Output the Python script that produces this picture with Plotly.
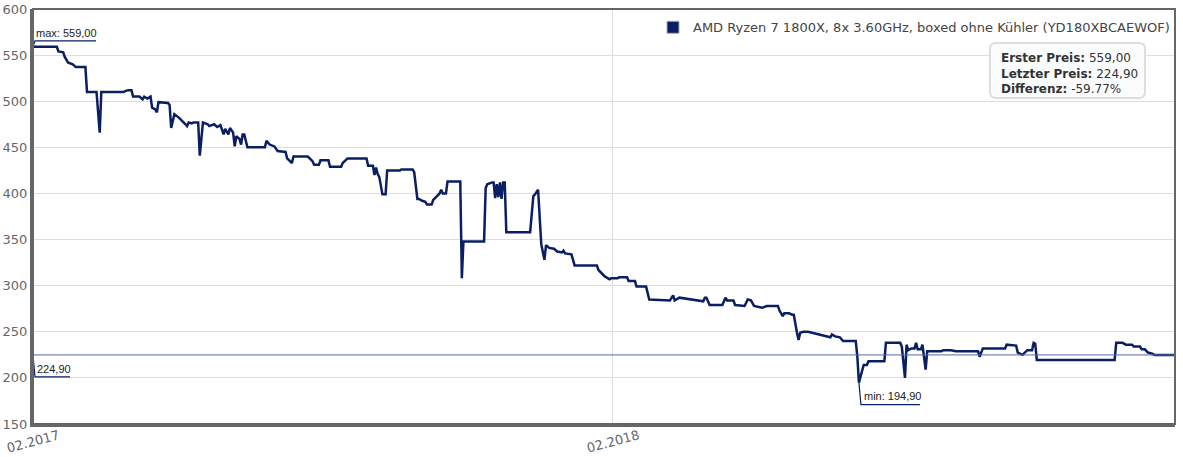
import pandas as pd
import plotly.graph_objects as go

# ---------------- data ----------------
start_date = "2017-02-01"
product_name = "AMD Ryzen 7 1800X, 8x 3.60GHz, boxed ohne Kühler (YD180XBCAEWOF)"

day_offsets = [
    0, 15, 16, 19, 20, 22, 25, 27, 33, 34,
    40, 42, 43, 57, 58, 60, 62, 63, 67, 69,
    70, 72, 74, 75, 77, 78, 79, 85, 86, 87,
    89, 92, 96, 97, 98, 100, 101, 104, 105, 107,
    110, 111, 114, 116, 118, 119, 120, 121, 123, 124,
    126, 127, 128, 130, 131, 132, 133, 135, 146, 147,
    149, 152, 154, 159, 160, 163, 164, 173, 176, 177,
    180, 181, 186, 187, 194, 195, 198, 210, 211, 214,
    215, 216, 217, 218, 220, 222, 223, 231, 232, 239,
    240, 242, 243, 245, 247, 248, 251, 252, 254, 256,
    257, 258, 260, 261, 269, 270, 271, 284, 285, 286,
    289, 290, 291, 292, 293, 294, 295, 296, 297, 298,
    313, 315, 316, 317, 318, 320, 321, 322, 323, 325,
    328, 330, 333, 334, 335, 339, 341, 355, 356, 358,
    360, 363, 364, 368, 369, 374, 375, 379, 380, 386,
    388, 401, 403, 404, 407, 422, 423, 424, 426, 434,
    436, 437, 441, 442, 448, 450, 452, 454, 459, 462,
    469, 470, 472, 473, 476, 478, 479, 481, 482, 483,
    485, 488, 502, 503, 505, 508, 510, 518, 519, 520,
    522, 523, 525, 526, 536, 537, 546, 547, 549, 550,
    551, 553, 555, 556, 557, 559, 560, 562, 563, 572,
    573, 578, 581, 595, 596, 598, 612, 613, 619, 620,
    623, 626, 629, 630, 631, 632, 681, 682, 686, 688,
    692, 693, 697, 698, 700, 702, 705, 706, 719,
]

prices = [
    559, 559, 554, 553, 548, 542, 540, 537, 537, 510,
    510, 466, 510, 510, 511, 512, 512, 505, 505, 502,
    505, 503, 505, 493, 491, 488, 499, 498, 496, 471,
    486, 482, 475, 473, 477, 476, 477, 477, 441, 477,
    475, 473, 475, 472, 474, 468, 464, 470, 464, 471,
    466, 451, 462, 459, 453, 464, 464, 450, 450, 457,
    453, 451, 446, 445, 438, 433, 440, 440, 435, 431,
    431, 436, 436, 429, 429, 433, 438, 438, 430, 430,
    420, 428, 421, 418, 399, 399, 425, 425, 426, 426,
    423, 394, 394, 392, 391, 388, 388, 393, 397, 400,
    404, 400, 400, 413, 413, 308, 348, 348, 406, 410,
    412, 412, 395, 410, 396, 412, 394, 412, 412, 358,
    358, 397, 399, 402, 404, 345, 336, 328, 344, 341,
    340, 337, 336, 338, 335, 334, 322, 322, 317, 314,
    310, 307, 308, 308, 309, 309, 305, 305, 299, 299,
    285, 284, 289.5, 284, 287, 283, 287, 287, 279, 279,
    287, 284, 284, 279, 278, 285, 284, 278, 276, 278,
    278, 273, 267, 270, 270, 268.5, 268.5, 249, 241, 249,
    250, 250, 244, 247, 245, 244, 240, 240, 223, 194.9,
    209, 214, 214, 218, 218, 238, 238, 234, 200, 236,
    230, 232, 232, 238, 231, 231, 236, 209, 229, 229,
    230, 230, 229, 229, 223, 232, 232, 236, 235, 227.5,
    225, 230, 230, 238, 237, 219.5, 219.5, 238, 238, 236,
    236, 234, 234, 231, 231, 227.5, 226, 224.9, 224.9,
]

tick_dates = ["2017-02-01", "2018-02-01"]
tick_labels = ["02.2017", "02.2018"]
y_ticks = [150, 200, 250, 300, 350, 400, 450, 500, 550, 600]

# ---------------- derived ----------------
dates = pd.Timestamp(start_date) + pd.to_timedelta(day_offsets, unit="D")
s = pd.Series(prices, index=dates)
first_price, last_price = prices[0], prices[-1]
max_val, max_date = s.max(), s.idxmax()
min_val, min_date = s.min(), s.idxmin()
diff_pct = (last_price - first_price) / first_price * 100


def de(v):
    return f"{v:.2f}".replace(".", ",")


LINE = "#0a1e64"
FONT = "DejaVu Sans"
LBL_FONT = "Liberation Sans"
GRAY = "#666666"

fig = go.Figure()
fig.add_trace(go.Scatter(
    x=dates, y=prices, mode="lines",
    line=dict(color=LINE, width=2.5), showlegend=False,
    hoverinfo="x+y",
))
# legend entry with a square swatch
fig.add_trace(go.Scatter(
    x=[None], y=[None], mode="markers", name=product_name,
    marker=dict(symbol="square", size=12, color=LINE,
                line=dict(color="#aaaaaa", width=1)),
))

shapes = []
# reference line at last price
shapes.append(dict(type="line", xref="paper", x0=0, x1=1, yref="y",
                   y0=last_price, y1=last_price,
                   line=dict(color="#5a68a8", width=1)))
# leader lines (pixel offsets anchored at data points)
for anchor_x, anchor_y, path in [
    (dates[0], max_val, "M 0,0 L 2,6 L 63,6"),
    (dates[0], last_price, "M 0,0 L 2,-22 L 37,-22"),
    (min_date, min_val, "M 0,0 L 2,-22 L 61,-22"),
]:
    shapes.append(dict(type="path", xref="x", yref="y",
                       xsizemode="pixel", ysizemode="pixel",
                       xanchor=anchor_x, yanchor=anchor_y, path=path,
                       line=dict(color=LINE, width=1.2)))
# info box (rounded)
shapes.append(dict(
    type="path", xref="paper", yref="paper",
    xsizemode="pixel", ysizemode="pixel", xanchor=1, yanchor=1,
    path=("M -179,-34 L -36,-34 Q -30,-34 -30,-40 L -30,-83 Q -30,-89 -36,-89 "
          "L -179,-89 Q -185,-89 -185,-83 L -185,-40 Q -185,-34 -179,-34 Z"),
    line=dict(color="#dddddd", width=2), fillcolor="#fbfcfd", layer="above"))
# plot frame (top/right)
shapes.append(dict(type="rect", xref="paper", yref="paper", x0=0, x1=1, y0=0, y1=1,
                   line=dict(color=GRAY, width=2), layer="above"))

annotations = []
annotations.append(dict(x=dates[0], y=max_val, xref="x", yref="y",
                        text=f"max: {de(max_val)}", showarrow=False,
                        xanchor="left", yanchor="middle", xshift=1, yshift=14,
                        font=dict(family=LBL_FONT, size=11, color="#222222")))
annotations.append(dict(x=dates[0], y=last_price, xref="x", yref="y",
                        text=de(last_price), showarrow=False,
                        xanchor="left", yanchor="middle", xshift=2, yshift=-14,
                        font=dict(family=LBL_FONT, size=11, color="#222222")))
annotations.append(dict(x=min_date, y=min_val, xref="x", yref="y",
                        text=f"min: {de(min_val)}", showarrow=False,
                        xanchor="left", yanchor="middle", xshift=3, yshift=-13,
                        font=dict(family=LBL_FONT, size=11, color="#222222")))
annotations.append(dict(
    x=1, y=1, xref="paper", yref="paper", xanchor="left", yanchor="top",
    xshift=-176, yshift=-40, align="left", showarrow=False,
    text=(f"<b>Erster Preis:</b> {de(first_price)}<br>"
          f"<b>Letzter Preis:</b> {de(last_price)}<br>"
          f"<b>Differenz:</b> {diff_pct:.2f}%"),
    font=dict(family=FONT, size=12, color="#333333")))
for td, tl in zip(tick_dates, tick_labels):
    annotations.append(dict(x=td, y=0, xref="x", yref="paper", text=tl,
                            showarrow=False, textangle=-15,
                            xanchor="center", yanchor="middle", yshift=-17,
                            font=dict(family=FONT, size=13, color=GRAY)))

x_end = pd.Timestamp(start_date) + pd.Timedelta(days=day_offsets[-1])

fig.update_layout(
    width=1183, height=457,
    margin=dict(l=33, r=8, t=9, b=33, autoexpand=False),
    paper_bgcolor="white", plot_bgcolor="white",
    font=dict(family=FONT, color=GRAY),
    shapes=shapes, annotations=annotations,
    legend=dict(x=1, y=0.992, xanchor="right", yanchor="top",
                bgcolor="rgba(0,0,0,0)",
                font=dict(family=FONT, size=13, color="#444444")),
    xaxis=dict(range=[pd.Timestamp(start_date), x_end], tickvals=tick_dates,
               showticklabels=False, showgrid=True, gridcolor="#dddddd",
               gridwidth=1, zeroline=False, showline=True, linecolor=GRAY,
               linewidth=3, ticks="", automargin=False),
    yaxis=dict(range=[150, 600], tickvals=y_ticks, showgrid=True,
               gridcolor="#dddddd", gridwidth=1, zeroline=False,
               showline=True, linecolor=GRAY, linewidth=3, ticks="",
               automargin=False,
               tickfont=dict(family=FONT, size=13, color=GRAY)),
)

fig.write_html("out.html", config={"displayModeBar": False},
               post_script="document.body.style.margin='0';document.body.style.overflow='hidden';")
